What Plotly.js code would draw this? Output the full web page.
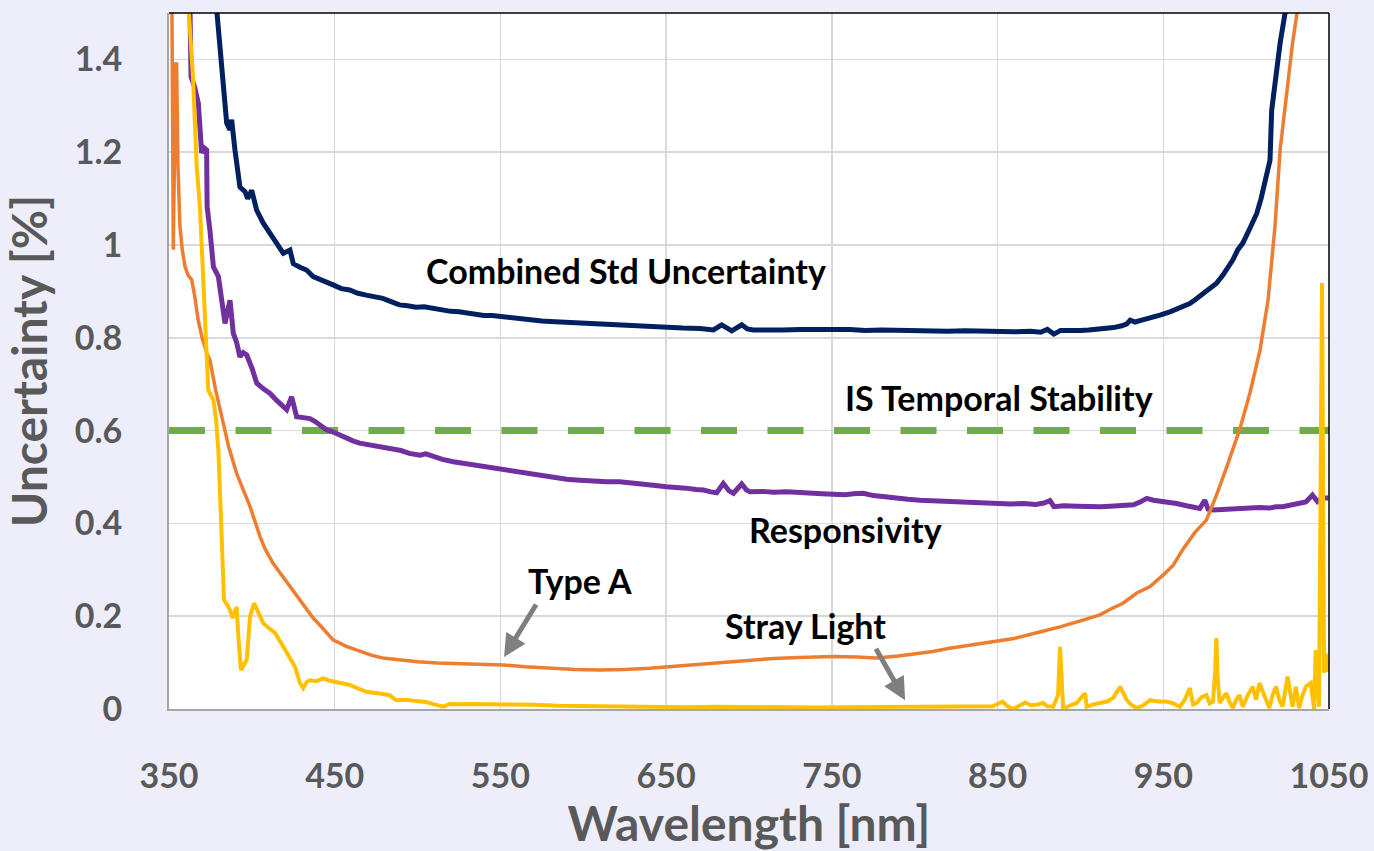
<!DOCTYPE html>
<html>
<head>
<meta charset="utf-8">
<script src="https://cdn.plot.ly/plotly-3.0.1.min.js"></script>
<style>html,body{margin:0;padding:0;background:#EEEEFB;}#chart{width:1374px;height:851px;}</style>
</head>
<body>
<div id="chart"></div>
<script>
// ---- Data ----
const xTickVals = [350, 450, 550, 650, 750, 850, 950, 1050];
const yTickVals = [0, 0.2, 0.4, 0.6, 0.8, 1, 1.2, 1.4];
const yTickText = ["0", "0.2", "0.4", "0.6", "0.8", "1", "1.2", "1.4"];

const combinedWl = [376,378.8,380.8,382.8,384.8,386.8,387.8,389.8,392.8,395.9,397.5,399.9,402.9,406.9,410,413,416,419,423,425,429,433,437,441,445,449,454,459,464,469,474,479,484,489,494,499,504,509.5,515,520,525,529.6,535,540,545,549.7,555,560,565,570,575,580,590,600,610,620,630,640,650.4,660,670.4,678.5,683.5,686.5,689.6,695.6,699,702.6,710,720,730.8,740,750,761,770,780,790,800,810,820,830,840,850,860,870,876,880,884,888,895,900,905,910,915,920,925,928,930,933,937,942,948,954,960,966,970,974,978,982,986,990,992,995,998,1002,1006.4,1009,1011.4,1014.4,1015.4,1017.4,1020.5,1023.5,1025];
const combinedVal = [1.62,1.50,1.42,1.32,1.263,1.248,1.27,1.205,1.125,1.115,1.10,1.118,1.075,1.047,1.03,1.018,1.0,0.982,0.989,0.96,0.952,0.946,0.932,0.925,0.92,0.914,0.906,0.903,0.896,0.892,0.889,0.885,0.878,0.871,0.869,0.866,0.867,0.863,0.858,0.857,0.856,0.853,0.851,0.848,0.848,0.846,0.842,0.841,0.838,0.838,0.836,0.835,0.833,0.832,0.831,0.828,0.827,0.825,0.823,0.821,0.82,0.817,0.828,0.82,0.815,0.828,0.819,0.817,0.818,0.817,0.818,0.817,0.818,0.818,0.816,0.817,0.816,0.815,0.815,0.814,0.815,0.814,0.815,0.813,0.814,0.812,0.818,0.808,0.816,0.815,0.816,0.817,0.818,0.82,0.822,0.826,0.83,0.838,0.834,0.838,0.842,0.849,0.856,0.864,0.874,0.884,0.896,0.905,0.917,0.935,0.955,0.968,0.99,1.004,1.034,1.068,1.1,1.14,1.183,1.29,1.348,1.435,1.5,1.55];

const respWl = [362.7,363.3,365.5,367.7,369.7,371,372.7,373,374.7,376.8,379.8,381.8,383.8,386.8,388.8,390.8,392.8,394.8,396.9,400,403,407,411,415,419,421,424,427,431,435,438,441,445,449,453,457,461,465,470,475,480,485,490,495,501.5,505,509.5,515,521.6,527,533,539,544,549.7,555,560,566,572,577,582,590,598,606,614,622,630,638,645,650,656,662,668,672.5,677,680.5,684.5,688,690.6,695.6,698.5,700.6,708,715,722.8,730,737,744,750.9,758,763,769,775,783,790,796,803,810,818,826,834,842,851.5,858,866,873,878,881.6,884,890,898,905,912,918,925,932,936,940,944,948,952,958,964,968,972,975,977,980,986,991,996,1002,1008,1014,1018,1022,1027,1032,1036,1040,1043,1046,1049.5];
const respVal = [1.5,1.363,1.34,1.305,1.198,1.21,1.205,1.083,1.032,0.953,0.932,0.881,0.831,0.881,0.81,0.79,0.759,0.768,0.763,0.735,0.702,0.69,0.68,0.665,0.652,0.645,0.673,0.63,0.628,0.626,0.62,0.612,0.602,0.597,0.59,0.584,0.578,0.573,0.57,0.566,0.564,0.562,0.557,0.551,0.547,0.55,0.544,0.538,0.533,0.53,0.526,0.522,0.519,0.515,0.513,0.511,0.506,0.503,0.5,0.497,0.495,0.493,0.491,0.49,0.49,0.486,0.483,0.481,0.479,0.478,0.476,0.473,0.472,0.468,0.466,0.486,0.47,0.465,0.485,0.472,0.468,0.469,0.467,0.468,0.466,0.465,0.464,0.463,0.462,0.464,0.465,0.46,0.456,0.454,0.452,0.45,0.449,0.448,0.445,0.446,0.444,0.442,0.442,0.443,0.441,0.444,0.449,0.436,0.438,0.437,0.436,0.436,0.437,0.438,0.44,0.446,0.454,0.45,0.448,0.447,0.443,0.438,0.434,0.432,0.45,0.431,0.429,0.43,0.432,0.431,0.432,0.434,0.433,0.436,0.436,0.44,0.443,0.446,0.461,0.447,0.455,0.455];

const typeAWl = [351,351.8,352.6,353.3,354,354.6,355.4,356.6,358,359.7,361.5,363.7,365.5,367.5,370,372.8,374.7,378,381.8,386,390.8,395,398.9,405,408,412.8,418,423,428,433,437,441,445,449,457,465,472,479,490,500,512,530,551.5,565,580,595,610,625,640,650.5,665,680,690,700.6,715,730,750.7,765,777,790,800,811,821,835,849.5,860,870,880,887.7,900,911.8,918,925.7,934,942,950,956,962,969,976,982,988.3,996,1002.3,1008.4,1013.2,1015,1017.4,1020.5,1024.5,1028,1030.7,1032];
const typeAVal = [1.55,1.5,0.99,1.2,1.39,1.39,1.17,1.04,0.99,0.953,0.935,0.925,0.89,0.84,0.8,0.767,0.752,0.69,0.63,0.565,0.508,0.47,0.436,0.371,0.345,0.314,0.288,0.264,0.238,0.213,0.196,0.181,0.165,0.149,0.135,0.124,0.116,0.11,0.105,0.102,0.099,0.097,0.095,0.091,0.088,0.085,0.084,0.085,0.088,0.091,0.095,0.1,0.103,0.106,0.109,0.111,0.113,0.112,0.11,0.114,0.119,0.124,0.131,0.138,0.145,0.152,0.161,0.17,0.177,0.19,0.203,0.215,0.228,0.25,0.264,0.289,0.31,0.345,0.38,0.407,0.46,0.522,0.601,0.681,0.774,0.881,0.95,1.04,1.205,1.327,1.435,1.5,1.55];

const strayWl = [361.5,362,364.5,366.7,368.7,370.7,372.7,373.7,376.8,378.5,379.8,380.8,381.8,383.2,385,386.8,388.4,389.5,390.8,392,393.4,396.9,398.9,401.3,403.9,406.9,410,414,419,423,426,429,431,433,435,439,443,447,451,455,459,464,469,476,483,487,493,499.5,505,510,515.5,519.6,525,532,540,550,560,570,585,600,620,640,660,680,700,720,740,760,780,800,820,835,841,847,853,856,859.5,863,866.6,870,873.6,877.6,880,883.6,886.5,887.7,888.8,889.6,894,897.7,902.8,903.8,908,912,916,919.8,924,928,931,934,938,942,947,952,956,960,963,966,968,970,973,976,978,980,981.3,982,982.8,984,986,988,990,992,994,996,998,1001,1004,1006,1008,1011,1014,1016,1018,1020,1022,1025,1028,1030,1032,1034,1036,1039,1041,1042,1044,1045.8,1047,1048,1049];
const strayVal = [1.55,1.5,1.36,1.17,1.08,0.93,0.767,0.687,0.666,0.62,0.558,0.45,0.343,0.235,0.225,0.213,0.196,0.21,0.22,0.15,0.084,0.106,0.199,0.228,0.207,0.185,0.175,0.164,0.134,0.11,0.091,0.056,0.045,0.058,0.062,0.06,0.066,0.061,0.059,0.055,0.052,0.045,0.037,0.034,0.03,0.019,0.02,0.017,0.015,0.01,0.005,0.011,0.01,0.011,0.011,0.01,0.009,0.009,0.007,0.006,0.005,0.005,0.004,0.005,0.004,0.004,0.003,0.004,0.004,0.005,0.004,0.004,0.005,0.006,0.016,0.006,0.0,0.006,0.014,0.008,0.009,0.013,0.006,0.005,0.03,0.134,0.03,0.0,0.008,0.013,0.034,0.005,0.01,0.013,0.016,0.024,0.048,0.019,0.008,0.002,0.008,0.019,0.016,0.016,0.012,0.005,0.02,0.045,0.01,0.013,0.025,0.03,0.012,0.016,0.08,0.153,0.07,0.013,0.025,0.034,0.015,0.002,0.02,0.03,0.005,0.03,0.048,0.02,0.056,0.027,0.002,0.03,0.048,0.02,0.005,0.07,0.005,0.048,0.002,0.03,0.048,0.056,0.0,0.127,0.005,0.918,0.078,0.12,0.08];

const stabilityWl = [350, 1050];
const stabilityVal = [0.6, 0.6];

// ---- Chart ----
const FONT = 'Lato, "Open Sans", sans-serif';
const GRAY = '#595959';

const traces = [
  {x: stabilityWl, y: stabilityVal, mode: 'lines', line: {color: '#70AD47', width: 7, dash: '36px,30.5px'}, hoverinfo: 'skip'},
  {x: combinedWl, y: combinedVal, mode: 'lines', line: {color: '#002060', width: 5}},
  {x: respWl, y: respVal, mode: 'lines', line: {color: '#7030A0', width: 5}},
  {x: typeAWl, y: typeAVal, mode: 'lines', line: {color: '#ED7D31', width: 3.5}},
  {x: strayWl, y: strayVal, mode: 'lines', line: {color: '#FFC000', width: 4}}
];

const labelFont = {family: FONT, size: 34, color: '#000000', weight: 'bold'};

const layout = {
  width: 1374, height: 851,
  paper_bgcolor: '#EEEEFB', plot_bgcolor: '#FFFFFF',
  margin: {l: 169, r: 45, t: 13, b: 142},
  showlegend: false,
  font: {family: FONT},
  xaxis: {
    range: [350, 1050], tickvals: xTickVals, ticktext: xTickVals.map(String),
    showgrid: true, gridcolor: '#D9D9D9', gridwidth: 1.5, zeroline: false,
    showline: true, linecolor: '#A6A6A6', linewidth: 2, ticks: '',
    ticklabelstandoff: 36,
    tickfont: {family: FONT, size: 34, color: GRAY, weight: 'bold'},
    title: {text: 'Wavelength [nm]', font: {family: FONT, size: 48, color: GRAY, weight: 'bold'}, standoff: 17}
  },
  yaxis: {
    range: [0, 1.5], tickvals: yTickVals, ticktext: yTickText,
    showgrid: true, gridcolor: '#D9D9D9', gridwidth: 1.5, zeroline: false,
    showline: true, linecolor: '#A6A6A6', linewidth: 2, ticks: '',
    ticklabelstandoff: 38,
    tickfont: {family: FONT, size: 34, color: GRAY, weight: 'bold'},
    title: {text: 'Uncertainty [%]', font: {family: FONT, size: 48, color: GRAY, weight: 'bold'}, standoff: 16}
  },
  shapes: [
    {type: 'line', xref: 'paper', yref: 'paper', x0: 0, x1: 1, y0: 1, y1: 1, line: {color: '#000000', width: 1.5}},
    {type: 'line', xref: 'paper', yref: 'paper', x0: 1, x1: 1, y0: 0, y1: 1, line: {color: '#000000', width: 1.5}}
  ],
  annotations: [
    {x: 625.8, y: 0.946, xref: 'x', yref: 'y', text: 'Combined Std Uncertainty', showarrow: false, font: labelFont},
    {x: 850.9, y: 0.672, xref: 'x', yref: 'y', text: 'IS Temporal Stability', showarrow: false, font: labelFont},
    {x: 758.5, y: 0.386, xref: 'x', yref: 'y', text: 'Responsivity', showarrow: false, font: labelFont},
    {x: 598, y: 0.278, xref: 'x', yref: 'y', text: 'Type A', showarrow: false, font: labelFont},
    {x: 733.8, y: 0.181, xref: 'x', yref: 'y', text: 'Stray Light', showarrow: false, font: labelFont},
    {x: 552.2, y: 0.112, xref: 'x', yref: 'y', text: '', showarrow: true, arrowhead: 2, arrowsize: 0.9, arrowwidth: 5, arrowcolor: '#7F7F7F', ax: 33, ay: -54},
    {x: 794.2, y: 0.019, xref: 'x', yref: 'y', text: '', showarrow: true, arrowhead: 2, arrowsize: 0.9, arrowwidth: 5, arrowcolor: '#7F7F7F', ax: -30, ay: -53}
  ]
};

Plotly.newPlot('chart', traces, layout, {displayModeBar: false, staticPlot: true});
</script>
</body>
</html>
